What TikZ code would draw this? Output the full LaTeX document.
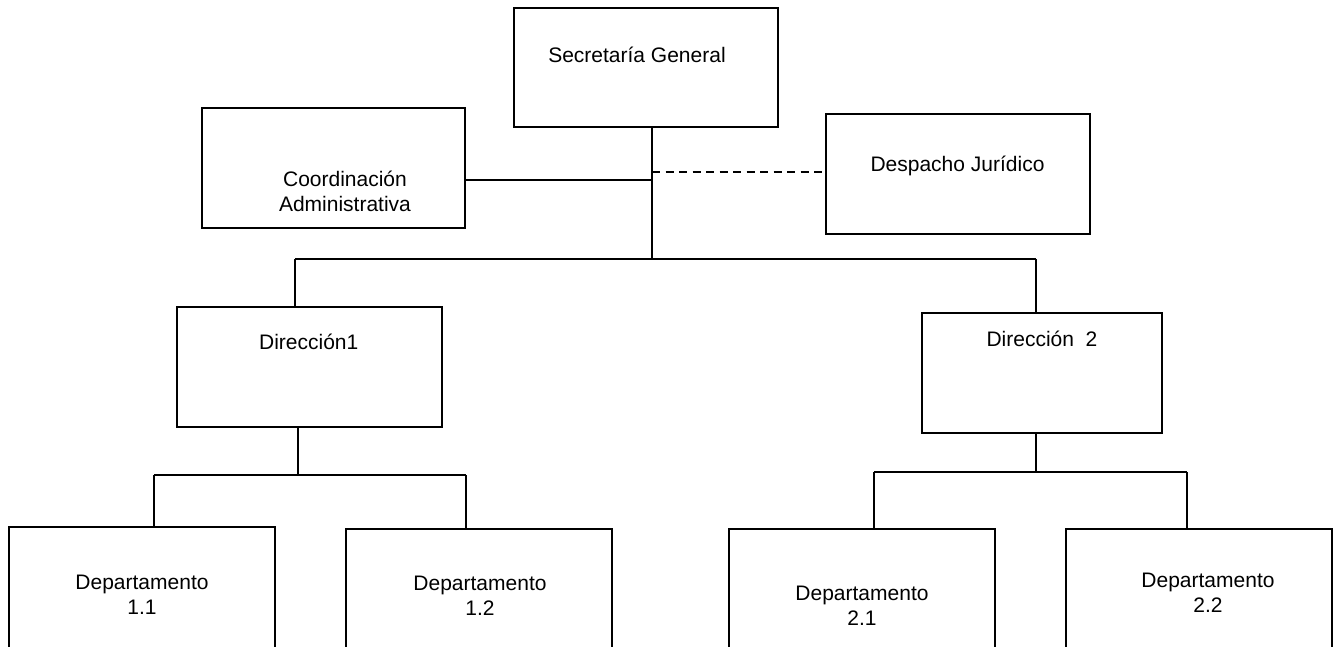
\documentclass[tikz,border=0pt]{standalone}
\usepackage{fontspec}
\setmainfont{Liberation Sans}
\begin{document}
\begin{tikzpicture}[x=1pt,y=-1pt,
  box/.style={draw, line width=1.3pt, rectangle, inner sep=0pt},
  thickbox/.style={box, line width=2.2pt},
  lbl/.style={font=\fontsize{21}{25}\selectfont, align=center, inner sep=0pt},
  conn/.style={line width=1.3pt},
  dconn/.style={line width=1.3pt, dash pattern=on 8pt off 5.5pt}]
\useasboundingbox (0,0) rectangle (1338,646);
\clip (0,0) rectangle (1338,646);
\fill[white] (0,0) rectangle (1338,646);
% boxes
\node[box, minimum width=264pt, minimum height=119pt] (sg) at (646,67.5) {};
\node[box, minimum width=263pt, minimum height=120pt] (coord) at (333.5,168) {};
\node[box, minimum width=264pt, minimum height=120pt] (desp) at (958,174) {};
\node[box, minimum width=265pt, minimum height=120pt] (dir1) at (309.5,367) {};
\node[thickbox, minimum width=240pt, minimum height=120pt] (dir2) at (1042,373) {};
\node[box, minimum width=266pt, minimum height=140pt] (d11) at (142,597) {};
\node[box, minimum width=266pt, minimum height=140pt] (d12) at (479,599) {};
\node[box, minimum width=266pt, minimum height=140pt] (d21) at (862,599) {};
\node[box, minimum width=266pt, minimum height=140pt] (d22) at (1199,599) {};
% labels
\node[lbl, anchor=base] (tsg) at (637,62) {Secretaría General};
\node[lbl, anchor=south] (tcoord) at (345,212) {Coordinación\\Administrativa};
\node[lbl, anchor=base] (tdesp) at (957.5,171) {Despacho Jurídico};
\node[lbl, anchor=base] (tdir1) at (308.7,349) {Dirección1};
\node[lbl, anchor=base] (tdir2) at (1042,346) {Dirección~ 2};
\node[lbl, anchor=south] (t11) at (142,615) {Departamento\\1.1};
\node[lbl, anchor=south] (t12) at (480,616) {Departamento\\1.2};
\node[lbl, anchor=south] (t21) at (862,626) {Departamento\\2.1};
\node[lbl, anchor=south] (t22) at (1208,613) {Departamento\\2.2};
% junction coordinates
\coordinate (top) at (652,259);
\coordinate (cj) at (651,180);
\coordinate (dj) at (652,172);
\coordinate (b1) at (295,259);
\coordinate (b2) at (1036,259);
\coordinate (e1) at (298,475);
\coordinate (e1l) at (154,475);
\coordinate (e1r) at (466,475);
\coordinate (e2) at (1036,472);
\coordinate (e2l) at (874,472);
\coordinate (e2r) at (1187,472);
% connectors
\draw[conn] (sg.south -| top) -- (top);
\draw[conn] (cj -| coord.east) -- (cj);
\draw[dconn] (dj) -- (dj -| desp.west);
\draw[conn] (b1) -- (b2);
\draw[conn] (b1) -- (b1 |- dir1.north);
\draw[conn] (b2) -- (b2 |- dir2.north);
\draw[conn] (dir1.south -| e1) -- (e1);
\draw[conn] (e1l) -- (e1r);
\draw[conn] (e1l) -- (e1l |- d11.north);
\draw[conn] (e1r) -- (e1r |- d12.north);
\draw[conn] (dir2.south -| e2) -- (e2);
\draw[conn] (e2l) -- (e2r);
\draw[conn] (e2l) -- (e2l |- d21.north);
\draw[conn] (e2r) -- (e2r |- d22.north);
\end{tikzpicture}
\end{document}
